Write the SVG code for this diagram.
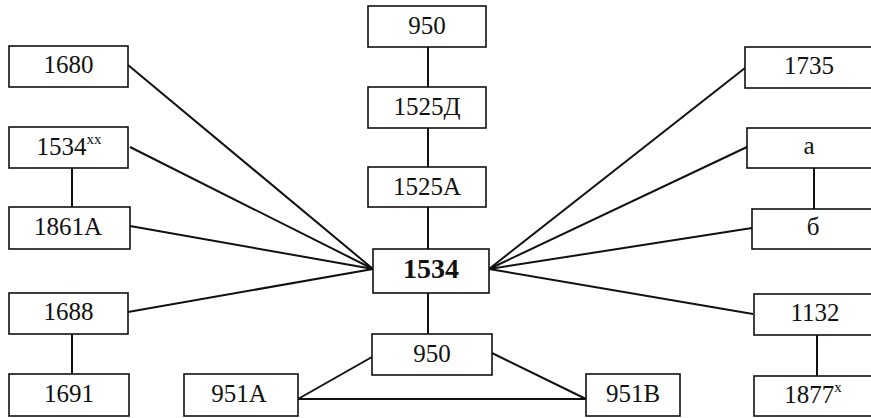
<svg xmlns="http://www.w3.org/2000/svg" width="871" height="418" viewBox="0 0 871 418">
<style>
.box{fill:#fff;stroke:#111;stroke-width:1.6}
.t{font-family:"Liberation Serif","Times New Roman",serif;font-size:25px;fill:#111;text-anchor:middle}
.b{font-weight:bold;font-size:28px}
.sup{font-size:15px}
.c{stroke:#111;stroke-width:2;fill:none}
</style>
<rect width="871" height="418" fill="#fff"/>
<g id="connectors">
<line class="c" x1="128" y1="65" x2="373" y2="269"/>
<line class="c" x1="130" y1="147" x2="373" y2="269"/>
<line class="c" x1="130" y1="226" x2="373" y2="269"/>
<line class="c" x1="128" y1="312" x2="373" y2="269"/>
<line class="c" x1="745" y1="68" x2="489" y2="269"/>
<line class="c" x1="747" y1="147" x2="489" y2="269"/>
<line class="c" x1="752" y1="228" x2="489" y2="269"/>
<line class="c" x1="753" y1="314" x2="489" y2="269"/>
<line class="c" x1="428" y1="47" x2="428" y2="87"/>
<line class="c" x1="428" y1="128" x2="428" y2="167"/>
<line class="c" x1="428" y1="207" x2="428" y2="249"/>
<line class="c" x1="428" y1="293" x2="428" y2="334"/>
<line class="c" x1="72" y1="168" x2="72" y2="207"/>
<line class="c" x1="72" y1="334" x2="72" y2="374"/>
<line class="c" x1="814" y1="168" x2="814" y2="209"/>
<line class="c" x1="817" y1="335" x2="817" y2="376"/>
<line class="c" x1="372" y1="357" x2="298" y2="399"/>
<line class="c" x1="492" y1="353" x2="586" y2="399"/>
<line class="c" x1="298" y1="399" x2="586" y2="399"/>
</g>
<g id="n1680"><rect class="box" x="9" y="46" width="119" height="41"/><text class="t" x="68.5" y="73">1680</text></g>
<g id="n1534xx"><rect class="box" x="9" y="127" width="119" height="41"/><text class="t" x="69" y="155">1534<tspan class="sup" dy="-11">xx</tspan></text></g>
<g id="n1861A"><rect class="box" x="9" y="207" width="121" height="42"/><text class="t" x="68" y="235">1861A</text></g>
<g id="n1688"><rect class="box" x="9" y="293" width="119" height="41"/><text class="t" x="68.5" y="320">1688</text></g>
<g id="n1691"><rect class="box" x="9" y="374" width="120" height="42"/><text class="t" x="69" y="402">1691</text></g>
<g id="n951A"><rect class="box" x="184" y="374" width="114" height="42"/><text class="t" x="239" y="402">951A</text></g>
<g id="n950top"><rect class="box" x="368" y="6" width="118" height="41"/><text class="t" x="427" y="34">950</text></g>
<g id="n1525D"><rect class="box" x="368" y="87" width="118" height="41"/><text class="t" x="427" y="115">1525Д</text></g>
<g id="n1525A"><rect class="box" x="368" y="167" width="118" height="40"/><text class="t" x="427" y="195">1525A</text></g>
<g id="n1534"><rect class="box" x="373" y="249" width="116" height="44"/><text class="t b" x="431" y="278">1534</text></g>
<g id="n950bot"><rect class="box" x="372" y="334" width="120" height="41"/><text class="t" x="432" y="362">950</text></g>
<g id="n951B"><rect class="box" x="586" y="374" width="94" height="42"/><text class="t" x="633" y="402">951B</text></g>
<g id="n1735"><rect class="box" x="745" y="47" width="135" height="41"/><text class="t" x="809" y="74">1735</text></g>
<g id="na"><rect class="box" x="747" y="128" width="133" height="40"/><text class="t" x="809" y="154">а</text></g>
<g id="nb"><rect class="box" x="752" y="209" width="128" height="40"/><text class="t" x="813" y="235">б</text></g>
<g id="n1132"><rect class="box" x="754" y="294" width="126" height="41"/><text class="t" x="815" y="321">1132</text></g>
<g id="n1877"><rect class="box" x="754" y="376" width="126" height="40"/><text class="t" x="813" y="403">1877<tspan class="sup" dy="-11">x</tspan></text></g>
</svg>
